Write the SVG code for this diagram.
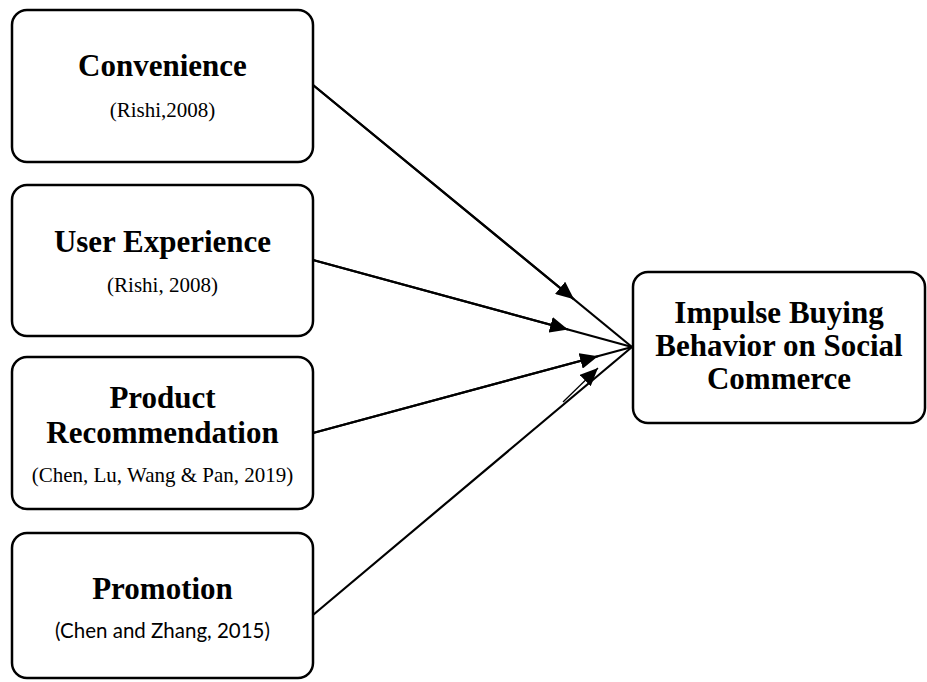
<svg xmlns="http://www.w3.org/2000/svg" width="927" height="682" viewBox="0 0 927 682">
<style>
.box{fill:#fff;stroke:#000;stroke-width:2.5}
.t{font-family:"Liberation Serif","Times New Roman",serif;font-weight:bold;font-size:31px;fill:#000;text-anchor:middle}
.c{font-family:"Liberation Serif","Times New Roman",serif;font-size:21px;fill:#000;text-anchor:middle}
.cs{font-family:Lato,"Open Sans",sans-serif;font-size:20.5px;fill:#000;text-anchor:middle}
.ln{stroke:#000;stroke-width:2.2;fill:none}
</style>
<defs>
<marker id="ah" viewBox="0 0 18 16" refX="18" refY="8" markerWidth="18" markerHeight="16" markerUnits="userSpaceOnUse" orient="auto">
<path d="M0,0 L18,8 L0,16 Z" fill="#000"/>
</marker>
</defs>
<g id="connectors">
<line class="ln" x1="313" y1="85" x2="632" y2="347"/>
<line class="ln" x1="313" y1="85" x2="574" y2="299.3" marker-end="url(#ah)"/>
<line class="ln" x1="313" y1="260" x2="632" y2="347"/>
<line class="ln" x1="313" y1="260" x2="568" y2="329.5" marker-end="url(#ah)"/>
<line class="ln" x1="313" y1="433" x2="632" y2="347"/>
<line class="ln" x1="313" y1="433" x2="598" y2="356.2" marker-end="url(#ah)"/>
<line class="ln" x1="313" y1="615" x2="632" y2="347"/>
<line x1="563" y1="402" x2="598" y2="368" stroke="#000" stroke-width="1.3" marker-end="url(#ah)"/>
</g>
<g id="convenience">
<rect class="box" x="12" y="10" width="301" height="152" rx="15"/>
<text class="t" x="162.5" y="76">Convenience</text>
<text class="c" x="162.5" y="117">(Rishi,2008)</text>
</g>
<g id="user-experience">
<rect class="box" x="12" y="185" width="301" height="151" rx="15"/>
<text class="t" x="162.5" y="252">User Experience</text>
<text class="c" x="162.5" y="292">(Rishi, 2008)</text>
</g>
<g id="product-recommendation">
<rect class="box" x="12" y="357" width="301" height="152" rx="15"/>
<text class="t" x="162.5" y="408">Product</text>
<text class="t" x="162.5" y="443">Recommendation</text>
<text class="c" x="162.5" y="482">(Chen, Lu, Wang &amp; Pan, 2019)</text>
</g>
<g id="promotion">
<rect class="box" x="12" y="533" width="301" height="145" rx="15"/>
<text class="t" x="162.5" y="599">Promotion</text>
<text class="cs" x="162.5" y="638">(Chen and Zhang, 2015)</text>
</g>
<g id="impulse-buying">
<rect class="box" x="633" y="272" width="292" height="151" rx="15"/>
<text class="t" x="779" y="323">Impulse Buying</text>
<text class="t" x="779" y="356">Behavior on Social</text>
<text class="t" x="779" y="389">Commerce</text>
</g>
</svg>
